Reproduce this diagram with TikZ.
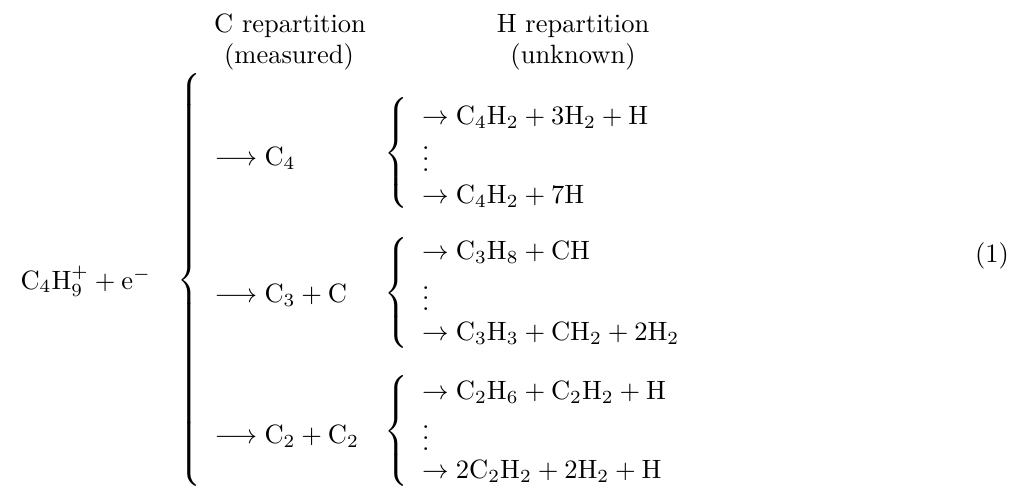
\documentclass[tikz,border=0pt]{standalone}
\usepackage{amsmath}
\usetikzlibrary{positioning}
\newcommand{\bracebox}[1]{$\left\{\vrule height #1 depth #1 width 0pt\right.$}
\tikzset{
  txt/.style={inner sep=0,anchor=base west},
  hdr/.style={inner sep=0,anchor=base},
  brc/.style={inner sep=0,anchor=west}
}

\begin{document}
\begin{tikzpicture}[x=1mm,y=1mm]
\useasboundingbox (0,0) rectangle (133.95,64.46);
% column heads
\node[hdr] (hdC) at (38.46,60.21) {C repartition};
\node[hdr] (msC) at (38.33,56.10) {(measured)};
\node[hdr] (hdH) at (76.00,60.21) {H repartition};
\node[hdr] (msH) at (76.00,56.10) {(unknown)};
% left side and outer brace
\node[txt] (lhs) at (2.65,26.13) {$\mathrm{C_4H_9^+ + e^-}$};
\node[brc] (bigbrace) at (23.5,26.90) {\bracebox{78pt}};
% carbon repartition
\node[txt] (cfour) at (28.38,42.57) {$\longrightarrow \mathrm{C_4}$};
\node[txt] (cthree) at (28.38,24.34) {$\longrightarrow \mathrm{C_3 + C}$};
\node[txt] (ctwo) at (28.38,5.70) {$\longrightarrow \mathrm{C_2 + C_2}$};
% inner braces
\node[brc] (brA) at (50.95,43.75) {\bracebox{20.75pt}};
\node[brc] (brB) at (50.95,25.20) {\bracebox{20.75pt}};
\node[brc] (brC) at (50.95,6.90) {\bracebox{20.75pt}};
% hydrogen repartition
\node[txt] (hA1) at (55.9,47.94) {$\to \mathrm{C_4H_2 + 3H_2 + H}$};
\node[txt] (hA2) at (55.9,41.78) {$\vdots$};
\node[txt] (hA3) at (55.9,37.53) {$\to \mathrm{C_4H_2 + 7H}$};
\node[txt] (hB1) at (55.9,30.04) {$\to \mathrm{C_3H_8 + CH}$};
\node[txt] (hB2) at (55.9,23.28) {$\vdots$};
\node[txt] (hB3) at (55.9,19.36) {$\to \mathrm{C_3H_3 + CH_2 + 2H_2}$};
\node[txt] (hC1) at (55.9,11.41) {$\to \mathrm{C_2H_6 + C_2H_2 + H}$};
\node[txt] (hC2) at (55.9,4.77) {$\vdots$};
\node[txt] (hC3) at (55.9,1.06) {$\to \mathrm{2C_2H_2 + 2H_2 + H}$};
% equation number
\node[hdr] (eqno) at (131.56,29.70) {(1)};
\end{tikzpicture}
\end{document}
